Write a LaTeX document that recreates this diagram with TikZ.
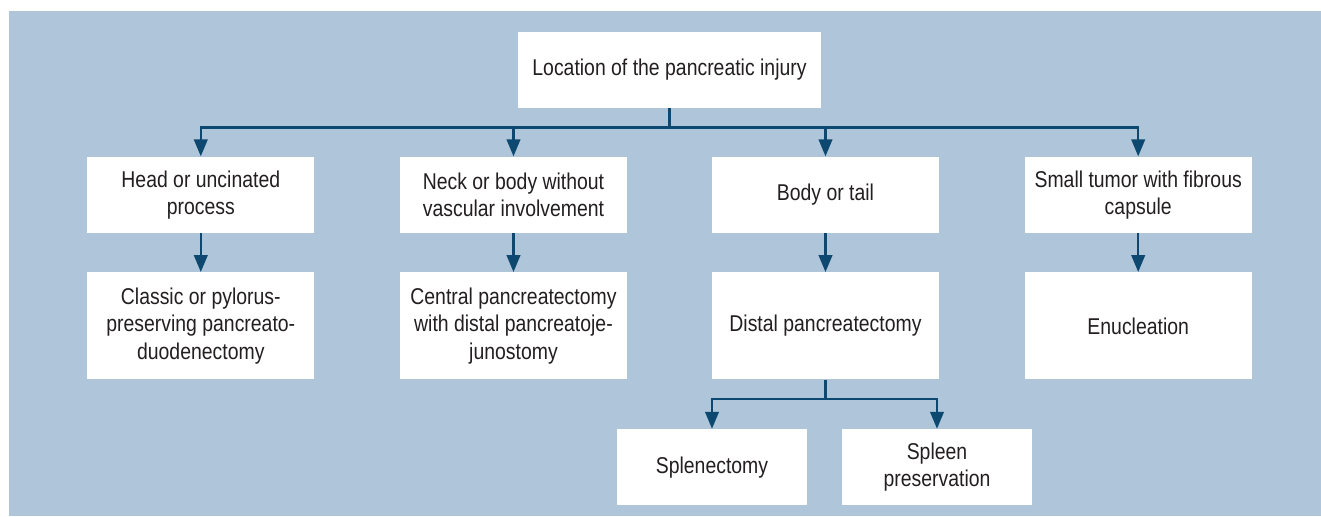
\documentclass[tikz,border=0pt]{standalone}
\usepackage{fontspec}
\setmainfont{Liberation Sans}[FakeStretch=0.85]
\usepackage{tikz}
\usetikzlibrary{arrows.meta,positioning}
\definecolor{panel}{RGB}{175,197,217}
\definecolor{wire}{RGB}{12,72,112}
\definecolor{ink}{RGB}{35,31,32}

\begin{document}
\begin{tikzpicture}[
  font=\fontsize{13}{15.5}\selectfont,
  >={Triangle[length=0.34cm, width=0.27cm]},
  root/.style={rectangle, fill=white, text=ink, minimum width=6.06cm,
               minimum height=1.52cm, align=center},
  site/.style={rectangle, fill=white, text=ink, minimum width=4.54cm,
               minimum height=1.52cm, align=center},
  proc/.style={site, minimum height=2.14cm},
  leaf/.style={site, minimum width=3.8cm},
  link/.style={->, draw=wire, line width=1.4pt},
]

% frame and panel
\useasboundingbox (-13.39,-8.92) rectangle (13.03,1.4);
\fill[panel] (-13.21,-8.92) rectangle (13.03,1.18);

% root
\node[root] (loc) {Location of the pancreatic injury};

% sites
\node[site, below=0.96cm of loc, xshift=-3.12cm] (neck)  {Neck or body without\\vascular involvement};
\node[site, below=0.96cm of loc, xshift=3.12cm]  (body)  {Body or tail};
\node[site, left=1.7cm of neck]                  (head)  {Head or uncinated\\process};
\node[site, right=1.7cm of body]                 (tumor) {Small tumor with fibrous\\capsule};

% procedures
\node[proc, below=0.78cm of head]  (whipple) {Classic or pylorus-\\preserving pancreato-\\duodenectomy};
\node[proc, below=0.78cm of neck]  (central) {Central pancreatectomy\\with distal pancreatoje-\\junostomy};
\node[proc, below=0.78cm of body]  (distal)  {Distal pancreatectomy};
\node[proc, below=0.78cm of tumor] (enuc)    {Enucleation};

% spleen options
\node[leaf, below=0.98cm of distal, xshift=-2.27cm] (splen)  {Splenectomy};
\node[leaf, below=0.98cm of distal, xshift=2.23cm]  (spleen) {Spleen\\preservation};

% root to sites
\draw[link] (loc.south) -- ++(0,-0.38) -| (head);
\draw[link] (loc.south) -- ++(0,-0.38) -| (neck);
\draw[link] (loc.south) -- ++(0,-0.38) -| (body);
\draw[link] (loc.south) -- ++(0,-0.38) -| (tumor);

% sites to procedures
\draw[link] (head)  -- (whipple);
\draw[link] (neck)  -- (central);
\draw[link] (body)  -- (distal);
\draw[link] (tumor) -- (enuc);

% distal to spleen options
\draw[link] (distal.south) -- ++(0,-0.38) -| (splen);
\draw[link] (distal.south) -- ++(0,-0.38) -| (spleen);

\end{tikzpicture}
\end{document}
